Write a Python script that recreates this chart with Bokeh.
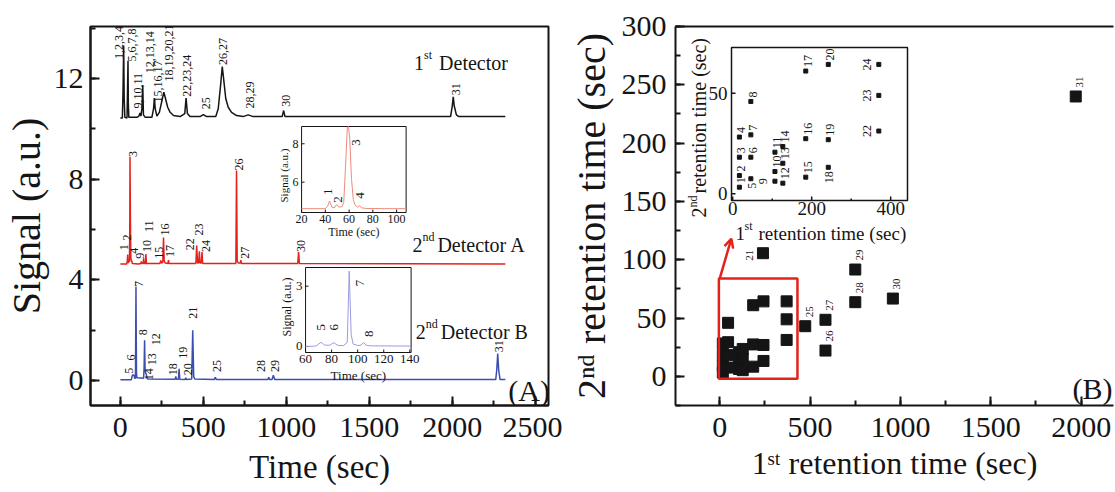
from math import pi
from bokeh.plotting import figure
from bokeh.layouts import row
from bokeh.models import (Range1d, SingleIntervalTicker, FixedTicker, LinearAxis, Label, Arrow,
                          OpenHead, BoxAnnotation)
from bokeh.embed import file_html
from bokeh.resources import INLINE
from bokeh.core.properties import value

FONT = "Liberation Serif"
INK = "#151515"
RED = "#e4221c"
BLUE = "#3d4fae"
PALE_RED = "#f08a7e"
PALE_BLUE = "#9a9ce0"

# ---------------- (A) chromatograms: time (sec) / signal (a.u.) ----------------
det1_t = [0, 12, 16, 20, 23, 27, 40, 43, 46, 48, 51, 100, 112, 118, 124, 130, 135, 139, 150,
          190, 200, 205, 210, 220, 235, 250, 262, 272, 285, 300, 320, 360, 388, 396, 404, 420,
          480, 500, 520, 575, 590, 605, 614, 622, 635, 650, 670, 700, 740, 770, 800, 975, 984,
          992, 1990, 2000, 2006, 2012, 2025, 2040, 2320]
det1_s = [10.42, 10.42, 11.5, 13.3, 11.2, 10.45, 10.42, 11.5, 12.7, 11.0, 10.45, 10.45, 10.5,
          10.62, 10.5, 10.8, 11.72, 10.55, 10.45, 10.45, 10.8, 11.22, 10.8, 10.5, 10.65, 11.1,
          11.45, 11.2, 10.85, 10.65, 10.52, 10.48, 10.6, 11.22, 10.6, 10.48, 10.48, 10.56, 10.48,
          10.48, 10.8, 11.8, 12.47, 12.0, 11.2, 10.85, 10.65, 10.52, 10.48, 10.55, 10.48, 10.48,
          10.72, 10.48, 10.48, 10.9, 11.27, 10.9, 10.55, 10.48, 10.48]
det1_labels = ["1,2,3,4", "5,6,7,8", "9,10,11", "12,13,14", "15,16,17", "18,19,20,21",
               "22,23,24", "25", "26,27", "28,29", "30", "31"]
det1_label_t = [-6, 70, 106, 180, 226, 296, 400, 516, 620, 784, 1000, 2020]
det1_label_s = [12.77, 12.67, 10.8, 12.2, 11.04, 11.87, 11.27, 10.77, 12.53, 10.8, 10.87, 11.33]

detA_t = [0, 38, 42, 44, 46, 48, 50, 52, 55, 57, 58, 61, 63, 66, 69, 72, 110, 123, 126, 129,
          137, 140, 143, 151, 154, 157, 238, 244, 248, 256, 260, 264, 270, 287, 290, 293, 455,
          460, 465, 472, 476, 480, 488, 492, 496, 696, 700, 704, 710, 723, 726, 730, 1069, 1074,
          1079, 2320]
detA_s = [4.62, 4.62, 4.75, 5.0, 4.7, 4.66, 4.8, 4.7, 4.8, 6.5, 8.87, 6.0, 4.9, 4.72, 4.76,
          4.64, 4.62, 4.64, 4.72, 4.64, 4.64, 4.85, 4.64, 4.64, 5.02, 4.64, 4.64, 4.76, 4.66,
          4.7, 5.67, 4.75, 4.66, 4.64, 4.78, 4.64, 4.64, 5.36, 4.66, 4.66, 5.13, 4.66, 4.66, 5.1,
          4.64, 4.64, 8.34, 4.75, 4.66, 4.66, 4.78, 4.64, 4.64, 5.1, 4.64, 4.62]
detA_labels = ["1", "2", "3", "4", "9", "10", "11", "15", "16", "17", "22", "23", "24", "26",
               "27", "30"]
detA_label_t = [20, 42, 74, 80, 116, 160, 170, 230, 270, 300, 420, 476, 514, 714, 750, 1090]
detA_label_s = [5.17, 5.56, 8.87, 5.03, 4.83, 5.1, 5.89, 4.83, 5.76, 4.9, 5.17, 5.76, 5.1, 8.34,
                4.83, 5.1]

detB_t = [0, 66, 70, 74, 78, 82, 86, 91, 94, 97, 100, 140, 143, 146, 149, 152, 156, 160, 166,
          330, 334, 338, 350, 354, 358, 390, 394, 398, 430, 436, 442, 448, 565, 572, 579, 888,
          894, 900, 914, 922, 930, 2262, 2268, 2274, 2280, 2288, 2320]
detB_s = [0.02, 0.02, 0.15, 0.22, 0.2, 0.22, 0.08, 0.08, 3.71, 0.3, 0.1, 0.08, 0.5, 1.59, 0.4,
          0.3, 0.25, 0.12, 0.05, 0.04, 0.16, 0.04, 0.04, 0.46, 0.04, 0.03, 0.1, 0.03, 0.05, 1.99,
          0.15, 0.05, 0.03, 0.12, 0.03, 0.03, 0.12, 0.03, 0.03, 0.2, 0.03, 0.03, 0.4, 1.06, 0.4,
          0.03, 0.03]
detB_labels = ["5", "6", "7", "8", "12", "13", "14", "18", "19", "20", "21", "25", "28", "29",
               "31"]
detB_label_t = [50, 66, 110, 134, 214, 190, 170, 316, 380, 406, 440, 580, 850, 930, 2280]
detB_label_s = [0.26, 0.79, 3.71, 1.79, 1.39, 0.6, 0.0, 0.2, 0.86, 0.2, 2.45, 0.33, 0.33, 0.33,
                1.12]

# inset of detector A (20-108 s)
insA_t = [20, 40, 42, 43.5, 45.5, 47.5, 49.5, 51.5, 54, 55.5, 57, 58.5, 59.5, 60.5, 62, 63.5,
          65, 67, 68.8, 70.5, 75, 90, 108]
insA_s = [4.62, 4.62, 4.75, 5.02, 4.7, 4.66, 4.82, 4.7, 4.72, 4.95, 6.8, 8.85, 8.9, 8.3, 6.2,
          5.1, 4.82, 4.7, 4.78, 4.66, 4.63, 4.62, 4.62]
insA_labels = ["1", "2", "3", "4"]
insA_label_t = [42, 50.6, 66, 69.4]
insA_label_s = [5.33, 4.93, 7.9, 5.13]
insA_xticks = [20, 40, 60, 80, 100]
insA_yticks = [6, 8]

# inset of detector B (60-141 s)
insB_t = [60, 68, 70, 72, 74.5, 78.5, 80.5, 82, 84.5, 89, 92, 93.5, 95, 96.5, 100, 102.5, 104.5,
          106.5, 110, 141]
insB_s = [0.0, 0.02, 0.12, 0.21, 0.07, 0.06, 0.15, 0.18, 0.06, 0.04, 0.2, 3.75, 0.6, 0.12, 0.05,
          0.06, 0.2, 0.06, 0.03, 0.02]
insB_labels = ["5", "6", "7", "8"]
insB_label_t = [72, 82, 102, 108.4]
insB_label_s = [0.8, 0.8, 3.0, 0.47]
insB_xticks = [60, 80, 100, 120, 140]
insB_yticks = [0, 3]

# ---------------- (B) 2D retention map ----------------
peak_ids = [str(i) for i in range(1, 32)]
ret1 = [17, 17, 17, 17, 46, 46, 46, 46, 107, 107, 107, 127, 127, 127, 185, 185, 185, 242, 242,
        242, 239, 370, 370, 370, 473, 585, 585, 750, 750, 958, 1970]
ret2 = [3.3, 9.1, 18.2, 28.2, 7.5, 18.2, 29.3, 45.9, 6.3, 11.1, 20.7, 5.3, 15.2, 23.5, 8.3, 27.4,
        61, 13.2, 26.9, 64.3, 105.6, 31.2, 48.9, 64.3, 43, 22.1, 48.5, 63.6, 91.6, 66.7, 240]
insC_xticks = [0, 200, 400]
insC_xminor = [100, 300]
insC_yticks = [0, 50]
zoom_box = dict(left=-5, right=430, bottom=-2, top=84)
zoom_arrow = dict(x_start=0, y_start=84, x_end=64, y_end=118)


def style_axis(ax, size, standoff, tick_in, minor_in, width, interval, label=None,
               label_size=0, label_standoff=0):
    ax.ticker = SingleIntervalTicker(interval=interval, num_minor_ticks=2)
    ax.major_label_text_font = FONT
    ax.major_label_text_font_size = f"{size}px"
    ax.major_label_text_color = INK
    ax.major_label_standoff = standoff
    ax.axis_line_width = width
    ax.axis_line_color = INK
    ax.major_tick_in = tick_in
    ax.major_tick_out = 0
    ax.minor_tick_in = minor_in
    ax.minor_tick_out = 0
    ax.major_tick_line_width = width
    ax.minor_tick_line_width = width
    ax.major_tick_line_color = INK
    ax.minor_tick_line_color = INK
    if label:
        ax.axis_label = label
        ax.axis_label_text_font = FONT
        ax.axis_label_text_font_size = f"{label_size}px"
        ax.axis_label_text_font_style = "normal"
        ax.axis_label_text_color = INK
        ax.axis_label_standoff = label_standoff


def add_label(p, x, y, text, size, x_offset=0, y_offset=0, baseline="alphabetic"):
    p.add_layout(Label(x=x, y=y, text=text, text_align="left", text_baseline=baseline,
                       x_offset=x_offset, y_offset=y_offset, text_font=FONT,
                       text_font_size=f"{size}px", text_color=INK))


def txt(p, xs, ys, texts, size, angle=0.0, align="left", baseline="middle", **kw):
    p.text(x=xs, y=ys, text=texts, angle=angle, text_align=align, text_baseline=baseline,
           text_font=value(FONT), text_font_size=f"{size}px", text_color=INK, **kw)


def rot_labels(p, xs, ys, texts, size, align="left", **kw):
    txt(p, xs, ys, texts, size, angle=pi / 2, align=align, **kw)


def base_fig(**kw):
    p = figure(output_backend="svg", toolbar_location=None, **kw)
    p.grid.visible = False
    return p


def add_inset(p, name, frame_box, inset_box, xr, yr):
    """Sub-coordinate system: maps inset ranges xr/yr onto the pixel box inset_box."""
    fl, fr, ft, fb = frame_box
    il, ir, it, ibm = inset_box
    kx = (ir - il) / (xr[1] - xr[0])
    ky = (ibm - it) / (yr[1] - yr[0])
    p.extra_x_ranges[name] = Range1d(xr[0] - (il - fl) / kx, xr[1] + (fr - ir) / kx)
    p.extra_y_ranges[name] = Range1d(yr[0] - (fb - ibm) / ky, yr[1] + (it - ft) / ky)
    kw = dict(x_range_name=name, y_range_name=name)
    return kx, ky, kw


def inset_axes(p, kw, kx, ky, xr, yr, xticks, yticks, size, tick_len, lw, xoff, yoff,
               xminor=()):
    p.quad(left=[xr[0]], right=[xr[1]], bottom=[yr[0]], top=[yr[1]], fill_color=None,
           line_color=INK, line_width=lw, **kw)
    n, m = len(xticks), len(yticks)
    p.segment(x0=xticks, y0=[yr[0]] * n, x1=xticks, y1=[yr[0] + tick_len / ky] * n,
              line_color=INK, line_width=lw, **kw)
    if xminor:
        k = len(xminor)
        p.segment(x0=list(xminor), y0=[yr[0]] * k, x1=list(xminor),
                  y1=[yr[0] + tick_len / 2 / ky] * k, line_color=INK, line_width=lw, **kw)
    p.segment(x0=[xr[0]] * m, y0=yticks, x1=[xr[0] + tick_len / kx] * m, y1=yticks,
              line_color=INK, line_width=lw, **kw)
    txt(p, xticks, [yr[0]] * n, [str(v) for v in xticks], size, align="center", baseline="top",
        y_offset=yoff, **kw)
    txt(p, [xr[0]] * m, yticks, [str(v) for v in yticks], size, align="right",
        baseline="middle", x_offset=-xoff, **kw)


# ================= panel (A) =================
P1_FRAME = (88, 548, 26, 405)
p1 = base_fig(width=562, height=492, x_range=Range1d(-180, 2580), y_range=Range1d(-1, 14.06),
              min_border_left=88, min_border_right=14, min_border_top=26, min_border_bottom=87)
p1.outline_line_color = INK
p1.outline_line_width = 2
p1.outline_line_alpha = 1
style_axis(p1.xaxis[0], 30, 12, 9, 5, 2, 500, "Time (sec)", 33, 9)
style_axis(p1.yaxis[0], 30, 7, 9, 5, 2, 4, "Signal (a.u.)", 40, 2)

p1.line(det1_t, det1_s, line_color=INK, line_width=1.5)
p1.line(detA_t, detA_s, line_color=RED, line_width=1.5)
p1.line(detB_t, detB_s, line_color=BLUE, line_width=1.5)
rot_labels(p1, det1_label_t, det1_label_s, det1_labels, 12)
rot_labels(p1, detA_label_t, detA_label_s, detA_labels, 12)
rot_labels(p1, detB_label_t, detB_label_s, detB_labels, 12)

for t0, s0, num, sup, rest in [(1770, 12.61, "1", "st", "Detector"),
                               (1760, 5.36, "2", "nd", "Detector A"),
                               (1780, 1.92, "2", "nd", "Detector B")]:
    add_label(p1, t0, s0, num, 20)
    add_label(p1, t0, s0, sup, 12, x_offset=10, y_offset=8)
    add_label(p1, t0, s0, rest, 20, x_offset=25)
add_label(p1, 2338, -0.4, "(A)", 30, baseline="middle")

# inset A
A_RANGE_X, A_RANGE_Y = (20, 108), (4.42, 8.9)
kx, ky, kwA = add_inset(p1, "insA", P1_FRAME, (300, 405, 126, 212), A_RANGE_X, A_RANGE_Y)
inset_axes(p1, kwA, kx, ky, A_RANGE_X, A_RANGE_Y, insA_xticks, insA_yticks, 12, 3, 1, 3, 2)
p1.line(insA_t, insA_s, line_color=PALE_RED, line_width=1, **kwA)
rot_labels(p1, insA_label_t, insA_label_s, insA_labels, 13, **kwA)
txt(p1, [sum(A_RANGE_X) / 2], [A_RANGE_Y[0]], ["Time (sec)"], 12, align="center",
    y_offset=19, **kwA)
txt(p1, [A_RANGE_X[0]], [sum(A_RANGE_Y) / 2], ["Signal (a.u.)"], 11, angle=pi / 2,
    align="center", x_offset=-18, y_offset=6, **kwA)

# inset B
B_RANGE_X, B_RANGE_Y = (60, 141), (-0.3, 3.93)
kx, ky, kwB = add_inset(p1, "insB", P1_FRAME, (304, 410, 267, 352), B_RANGE_X, B_RANGE_Y)
inset_axes(p1, kwB, kx, ky, B_RANGE_X, B_RANGE_Y, insB_xticks, insB_yticks, 13, 3, 1, 3, 2)
p1.line(insB_t, insB_s, line_color=PALE_BLUE, line_width=1, **kwB)
rot_labels(p1, insB_label_t, insB_label_s, insB_labels, 13, **kwB)
txt(p1, [sum(B_RANGE_X) / 2], [B_RANGE_Y[0]], ["Time (sec)"], 13, align="center",
    y_offset=23, **kwB)
txt(p1, [B_RANGE_X[0]], [sum(B_RANGE_Y) / 2], ["Signal (a.u.)"], 12, angle=pi / 2,
    align="center", x_offset=-19, y_offset=-3, **kwB)

# ================= panel (B) =================
P2_FRAME = (113, 551, 26, 405)
p2 = base_fig(width=553, height=492, x_range=Range1d(-245, 2179), y_range=Range1d(-25, 300),
              min_border_left=113, min_border_right=2, min_border_top=26, min_border_bottom=87)
p2.outline_line_color = None
style_axis(p2.xaxis[0], 30, 12, 9, 5, 2, 500, "1\u02e2\u1d57 retention time (sec)", 32, 5)
style_axis(p2.yaxis[0], 30, 9, 9, 5, 2, 50, "2\u207f\u1d48 retention time (sec)", 40, 5)
top_ax = LinearAxis(ticker=FixedTicker(ticks=[]), axis_line_width=2, axis_line_color=INK,
                    major_tick_line_color=None, minor_tick_line_color=None,
                    major_tick_out=0, minor_tick_out=0, major_label_standoff=0)
p2.add_layout(top_ax, "above")

p2.add_layout(BoxAnnotation(**zoom_box, fill_alpha=0, line_color=RED, line_alpha=1,
                            line_width=2.5))
p2.add_layout(Arrow(**zoom_arrow, line_color=RED, line_width=2.5,
                    end=OpenHead(size=9, line_color=RED, line_width=2.5)))
p2.scatter(ret1, ret2, marker="square", size=11, color=INK)

ab = [k for k, i in enumerate(peak_ids) if int(i) >= 25]
lf = [peak_ids.index("21")]
rot_labels(p2, [ret1[k] for k in ab], [ret2[k] for k in ab], [peak_ids[k] for k in ab], 11,
           x_offset=4, y_offset=-9)
rot_labels(p2, [ret1[k] for k in lf], [ret2[k] for k in lf], [peak_ids[k] for k in lf], 11,
           x_offset=-13, y_offset=2, align="center")
add_label(p2, 1952, -10, "(B)", 30, baseline="middle")

# inset C (zoom of the 2D map)
C_RANGE_X, C_RANGE_Y = (-3, 442.6), (-3.3, 72.7)
kx, ky, kwC = add_inset(p2, "insC", P2_FRAME, (169, 345, 47, 200), C_RANGE_X, C_RANGE_Y)
inset_axes(p2, kwC, kx, ky, C_RANGE_X, C_RANGE_Y, insC_xticks, insC_yticks, 19, 4, 1.5, 4, 1,
           xminor=insC_xminor)
inC = [k for k in range(len(peak_ids)) if ret1[k] <= C_RANGE_X[1] and ret2[k] <= C_RANGE_Y[1]]
p2.scatter([ret1[k] for k in inC], [ret2[k] for k in inC], marker="square", size=4, color=INK,
           **kwC)
left_ids_C = {"9", "22", "23", "24"}
below_ids_C = {"5", "18"}
up = [k for k in inC if peak_ids[k] not in left_ids_C | below_ids_C]
lf = [k for k in inC if peak_ids[k] in left_ids_C]
dn = [k for k in inC if peak_ids[k] in below_ids_C]
rot_labels(p2, [ret1[k] for k in up], [ret2[k] for k in up], [peak_ids[k] for k in up], 12,
           x_offset=2, y_offset=-4, **kwC)
rot_labels(p2, [ret1[k] for k in lf], [ret2[k] for k in lf], [peak_ids[k] for k in lf], 12,
           x_offset=-12, y_offset=0, align="center", **kwC)
rot_labels(p2, [ret1[k] for k in dn], [ret2[k] for k in dn], [peak_ids[k] for k in dn], 12,
           x_offset=1, y_offset=4, align="right", **kwC)
x0c, y0c = [C_RANGE_X[0]], [C_RANGE_Y[0]]
txt(p2, x0c, y0c, ["1"], 19, baseline="alphabetic", x_offset=4, y_offset=33, **kwC)
txt(p2, x0c, y0c, ["st"], 12, baseline="alphabetic", x_offset=13, y_offset=25, **kwC)
txt(p2, x0c, y0c, ["retention time (sec)"], 19, baseline="alphabetic", x_offset=27,
    y_offset=33, **kwC)
txt(p2, x0c, y0c, ["2"], 20, angle=pi / 2, x_offset=-33, y_offset=17, **kwC)
txt(p2, x0c, y0c, ["nd"], 12, angle=pi / 2, x_offset=-39, y_offset=7, **kwC)
txt(p2, x0c, y0c, ["retention time (sec)"], 20, angle=pi / 2, x_offset=-33, y_offset=-7,
    **kwC)

root = row(p1, p2)
open("out.html", "w", encoding="utf-8").write(file_html(root, INLINE))
